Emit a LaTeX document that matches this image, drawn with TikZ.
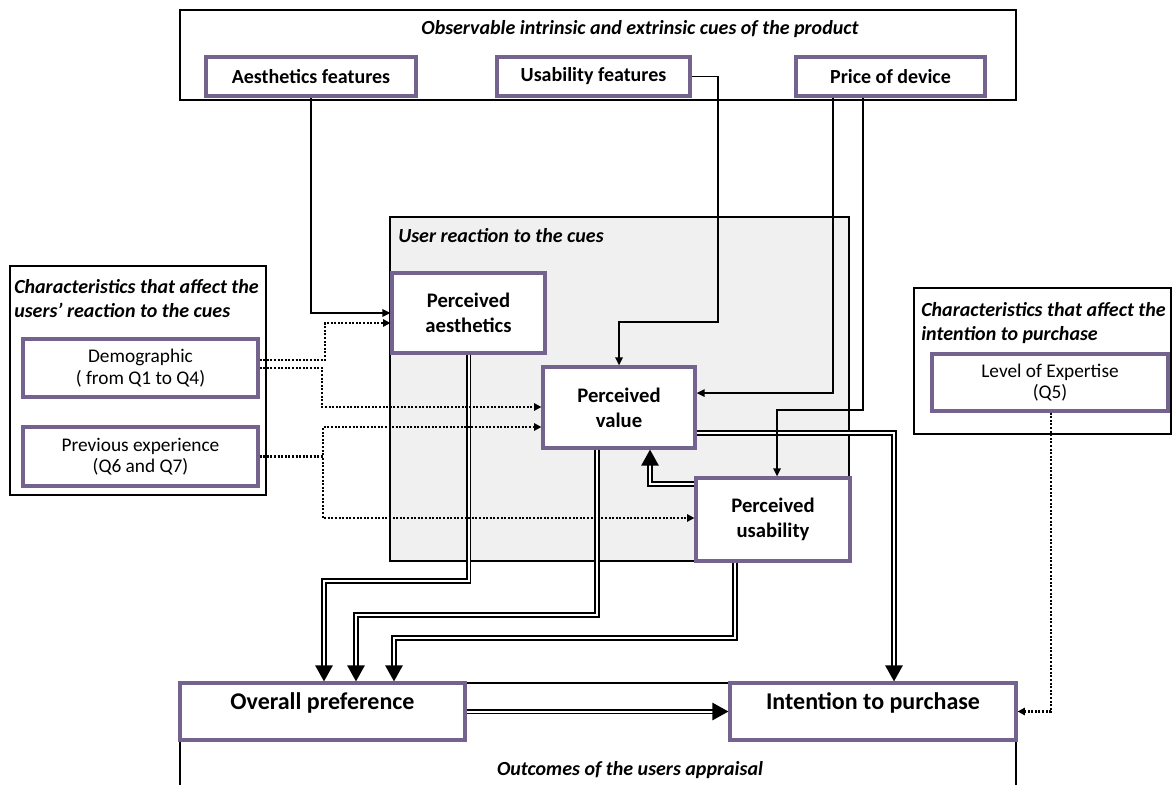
\documentclass[tikz,border=0pt]{standalone}
\usepackage{fontspec}
\setmainfont{Carlito}
\usepackage{tikz}
\usetikzlibrary{arrows.meta}
\definecolor{BoxPurple}{HTML}{74628F}
\definecolor{ReactGray}{HTML}{F0F0F0}

\begin{document}
\begin{tikzpicture}[x=0.75pt, y=-0.75pt,
  wh/.style 2 args={minimum width=#1*0.75pt, minimum height=#2*0.75pt},
  group/.style={draw=black, line width=0.8pt, inner sep=0pt},
  grouptitle/.style={inner sep=0pt, font=\fontsize{15}{18}\selectfont\bfseries\itshape},
  cue/.style={draw=BoxPurple, line width=2.4pt, fill=white, inner sep=0pt, align=center,
              font=\fontsize{15}{17}\selectfont\bfseries},
  percbox/.style={cue, font=\fontsize{15.5}{19}\selectfont\bfseries},
  charbox/.style={cue, font=\fontsize{14.5}{16}\selectfont},
  outbox/.style={cue, text height=12pt, text depth=15pt, font=\fontsize{18}{21}\selectfont\bfseries},
  arr/.style={-{Triangle[length=6pt, width=5.5pt]}, line width=1.3pt},
  dotarr/.style={-{Triangle[length=5.5pt, width=5.5pt]}, line width=1.7pt, dash pattern=on 1.5pt off 1.2pt},
  dblarr/.style={-{Triangle[length=12pt, width=13pt]}, double, double distance=1.5pt, line width=1.2pt}
]
\useasboundingbox (0,0) rectangle (1173,785);

% ── CUES OF THE PRODUCT ───────────────────────────────────────────────────────
\node[group, wh={836}{90}] (cuesgrp) at (598,55) {};
\node[grouptitle] (cuestitle) at (640,29) {Observable intrinsic and extrinsic cues of the product};

\node[cue, wh={210}{39}] (aesfeat) at (311,76.5)   {Aesthetics features};
\node[cue, wh={193}{39}] (usefeat) at (593.5,76.5) {Usability features};
\node[cue, wh={189}{39}] (price)   at (890.5,76.5) {Price of device};

% ── USER REACTION ─────────────────────────────────────────────────────────────
\node[group, fill=ReactGray, wh={459}{344}] (react) at (619.5,389) {};
\node[grouptitle, anchor=west] (reacttitle) at (398,236) {User reaction to the cues};

\node[percbox, wh={153}{80}] (percaes) at (468.5,313) {Perceived\\aesthetics};
\node[percbox, wh={152}{81}] (percval) at (619,407.5) {Perceived\\value};
\node[percbox, wh={154}{83}] (percuse) at (773,519.5) {Perceived\\usability};

% ── USER CHARACTERISTICS ──────────────────────────────────────────────────────
\node[group, wh={256}{229}] (leftgrp) at (138,380.5) {};
\node[grouptitle, anchor=west, align=left] (lefttitle) at (14,299)
  {Characteristics that affect the\\users’ reaction to the cues};
\node[charbox, wh={235}{58}] (demo)    at (140.5,368)   {Demographic\\( from Q1 to Q4)};
\node[charbox, wh={235}{59}] (prevexp) at (140.5,456.5) {Previous experience\\(Q6 and Q7)};

\node[group, wh={257}{146}] (rightgrp) at (1042.5,361) {};
\node[grouptitle, anchor=west, align=left] (righttitle) at (921,323.5)
  {Characteristics that affect the\\intention to purchase};
\node[charbox, wh={236}{57}] (level) at (1050,382.5) {Level of Expertise\\(Q5)};

% ── OUTCOMES ──────────────────────────────────────────────────────────────────
\draw[line width=0.8pt] (180,785) -- (180,683) -- (1016,683) -- (1016,785);
\node[grouptitle] (outtitle) at (630,770) {Outcomes of the users appraisal};

\node[outbox, wh={285}{57}] (pref)  at (322.5,711.5) {Overall preference};
\node[outbox, wh={286}{57}] (purch) at (873,711.5)   {Intention to purchase};

% reactions -> outcomes
\draw[dblarr] (percaes.south) |- (324,581) -- (pref.north -| 324,0);
\draw[dblarr] (percval.south -| 597,0) |- (356,615) -- (pref.north -| 356,0);
\draw[dblarr] (percuse.south -| 735,0) |- (394,638) -- (pref.north -| 394,0);
\draw[dblarr] (percuse.west |- 0,484) -| (percval.south -| 650,0);
\draw[dblarr] (percval.east |- 0,433) -| (purch.north -| 894,0);
\draw[dblarr] (pref.east) -- (purch.west);

% cues -> reactions
\draw[arr] (aesfeat.south) |- (percaes.west);
\draw[arr] (usefeat.east) -| (718,322) -| (percval.north);
\draw[arr] (price.south -| 833,0) |- (percval.east |- 0,393);
\draw[arr] (price.south -| 863,0) |- (777,410) -- (percuse.north -| 777,0);

% characteristics (dotted)
\draw[dotarr] (demo.east |- 0,360) -| (325,323) -- (percaes.west |- 0,323);
\draw[dotarr] (demo.east) -| (322,407) -- (percval.west |- 0,407);
\draw[dotarr] (prevexp.east) -| (323,427) -- (percval.west |- 0,427);
\draw[dotarr] (prevexp.east) -| (323,518) -- (percuse.west |- 0,518);
\draw[dotarr] (level.south -| 1051,0) |- (purch.east);

\end{tikzpicture}
\end{document}
